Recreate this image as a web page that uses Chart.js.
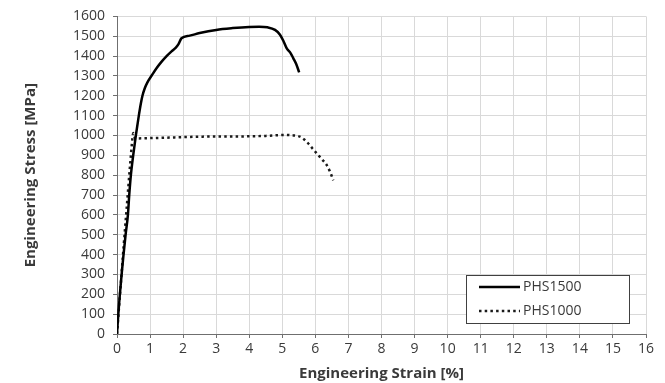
<!DOCTYPE html>
<html>
<head>
<meta charset="utf-8">
<script src="https://cdn.jsdelivr.net/npm/chart.js@4"></script>
<style>
    html, body { margin: 0; padding: 0; background: #fff; }
    #wrap { width: 665px; height: 383px; }
</style>
</head>
<body>
<div id="wrap"><canvas id="stress-chart"></canvas></div>
<script>
// values
const strain1500 = [0, 0.04, 0.14, 0.26, 0.33, 0.37, 0.42, 0.49, 0.57, 0.66, 0.72, 0.77, 0.84, 0.92, 1.05, 1.2, 1.35, 1.5, 1.65, 1.78, 1.86, 1.95, 2.2, 2.5, 3.0, 3.5, 4.0, 4.3, 4.55, 4.78, 4.93, 5.05, 5.13, 5.25, 5.33, 5.42, 5.51];
const stress1500 = [0, 100, 300, 500, 600, 700, 800, 900, 1000, 1100, 1160, 1200, 1238, 1268, 1302, 1340, 1372, 1400, 1424, 1443, 1460, 1490, 1503, 1516, 1532, 1541, 1547, 1548, 1545, 1532, 1508, 1470, 1440, 1415, 1390, 1360, 1318];

const strain1000 = [0, 0.1, 0.2, 0.3, 0.4, 0.47, 0.49, 0.55, 1.0, 1.5, 2.0, 2.5, 3.0, 3.5, 4.0, 4.5, 4.9, 5.05, 5.3, 5.48, 5.6, 5.73, 5.9, 6.04, 6.2, 6.34, 6.45, 6.54];
const stress1000 = [0, 220, 440, 650, 860, 990, 1012, 985, 987, 989, 992, 994, 995, 995, 996, 998, 1002, 1003, 1001, 997, 988, 970, 937, 910, 880, 852, 815, 774];

const seriesNames = ['PHS1500', 'PHS1000'];

const xMin = 0, xMax = 16, xStep = 1;
const yMin = 0, yMax = 1600, yStep = 100;

const toPoints = (xs, ys) => xs.map((x, i) => ({x: x, y: ys[i]}));

const textColor = '#3a3a3a';
const gridColor = '#d9d9d9';
const axisColor = '#6f6f6f';

// legend box drawn inside the plot, bottom right
const boxLegend = {
    id: 'boxLegend',
    afterDraw(chart) {
        const ctx = chart.ctx;
        const area = chart.chartArea;
        const w = 163, h = 48;
        const x0 = area.right - 17 - w;
        const y0 = area.bottom - 11 - h;
        ctx.save();
        ctx.fillStyle = '#fff';
        ctx.fillRect(x0, y0, w, h);
        ctx.strokeStyle = '#404040';
        ctx.lineWidth = 1;
        ctx.strokeRect(x0 + 0.5, y0 + 0.5, w, h);
        chart.data.datasets.forEach((ds, i) => {
            const yy = y0 + 12 + i * 24;
            ctx.beginPath();
            ctx.strokeStyle = ds.borderColor;
            ctx.lineWidth = ds.borderWidth;
            ctx.setLineDash(ds.borderDash || []);
            ctx.moveTo(x0 + 13, yy);
            ctx.lineTo(x0 + 54, yy);
            ctx.stroke();
            ctx.setLineDash([]);
            ctx.fillStyle = textColor;
            ctx.font = '14px "Open Sans"';
            ctx.textBaseline = 'middle';
            ctx.fillText(ds.label, x0 + 57, yy);
        });
        ctx.restore();
    }
};

const drawStressChart = () => {
    return new Chart(document.getElementById('stress-chart').getContext('2d'), {
        type: 'line',
        data: {
            datasets: [{
                label: seriesNames[0],
                data: toPoints(strain1500, stress1500),
                borderColor: '#000',
                borderWidth: 2.5,
                pointRadius: 0,
                fill: false,
                cubicInterpolationMode: 'monotone'
            }, {
                label: seriesNames[1],
                data: toPoints(strain1000, stress1000),
                borderColor: '#1a1a1a',
                borderWidth: 2.5,
                borderDash: [2.5, 3.2],
                pointRadius: 0,
                fill: false,
                cubicInterpolationMode: 'monotone'
            }]
        },
        options: {
            responsive: true,
            maintainAspectRatio: false,
            animation: false,
            layout: {
                padding: {left: 0, top: 11, right: 19, bottom: 0}
            },
            plugins: {
                legend: {display: false},
                tooltip: {enabled: false}
            },
            scales: {
                x: {
                    type: 'linear',
                    min: xMin,
                    max: xMax,
                    afterFit: (s) => { s.height = 49; },
                    ticks: {
                        stepSize: xStep,
                        color: textColor,
                        padding: 3,
                        callback: (v) => String(v),
                        font: {family: 'Open Sans', size: 14}
                    },
                    grid: {color: gridColor, tickColor: axisColor, tickLength: 4, lineWidth: 1},
                    border: {color: axisColor, width: 1},
                    title: {
                        display: true,
                        text: 'Engineering Strain [%]',
                        color: textColor,
                        padding: {top: 0, bottom: 0},
                        font: {family: 'Open Sans', size: 15, weight: 'bold'}
                    }
                },
                y: {
                    type: 'linear',
                    min: yMin,
                    max: yMax,
                    afterFit: (s) => { s.width = 117; },
                    ticks: {
                        stepSize: yStep,
                        color: textColor,
                        padding: 8,
                        callback: (v) => String(v),
                        font: {family: 'Open Sans', size: 14}
                    },
                    grid: {color: gridColor, tickColor: axisColor, tickLength: 4, lineWidth: 1},
                    border: {color: axisColor, width: 1},
                    title: {
                        display: true,
                        text: 'Engineering Stress [MPa]',
                        color: textColor,
                        padding: {top: 22, bottom: 0},
                        font: {family: 'Open Sans', size: 15, weight: 'bold'}
                    }
                }
            }
        },
        plugins: [boxLegend]
    });
};

const stressChart = drawStressChart();
</script>
</body>
</html>
